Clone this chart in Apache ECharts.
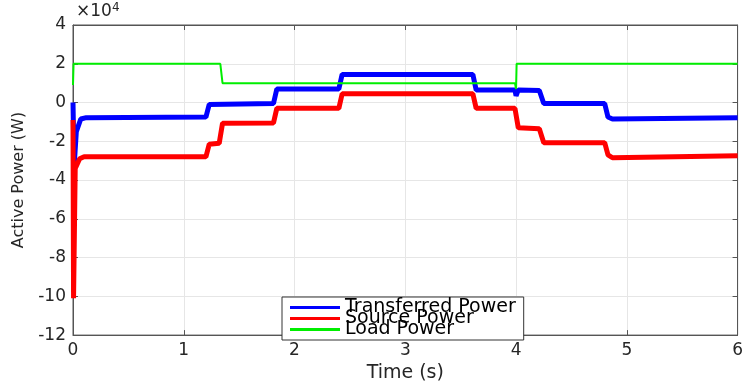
<!DOCTYPE html>
<html>
<head>
<meta charset="utf-8">
<script src="https://cdn.jsdelivr.net/npm/echarts@6/dist/echarts.min.js"></script>
<style>
  html, body { margin: 0; padding: 0; background: #fff; }
  #chart { width: 746px; height: 388px; }
</style>
</head>
<body>
<div id="chart"></div>
<script>
// time (s) and active power (W)
const transferredT = [0, 0.01, 0.03, 0.07, 0.12, 1.2, 1.23, 1.81, 1.84, 2.4, 2.43, 3.61, 3.64, 3.99, 4.0, 4.02, 4.21, 4.25, 4.8, 4.83, 4.87, 6];
const transferredP = [0, -33000, -15000, -8500, -7800, -7500, -1000, -500, 7000, 7000, 14500, 14500, 6500, 6500, 3500, 6500, 6200, -500, -500, -7500, -8500, -7800];

const sourceT = [0, 0.005, 0.02, 0.06, 0.1, 1.2, 1.23, 1.32, 1.35, 1.81, 1.84, 2.4, 2.43, 3.61, 3.64, 3.99, 4.02, 4.21, 4.25, 4.8, 4.83, 4.87, 6];
const sourceP = [-9000, -101000, -34000, -29000, -28000, -28000, -21500, -21000, -10700, -10500, -3000, -3000, 4500, 4500, -3000, -3000, -13000, -13500, -20700, -20700, -27000, -28500, -27500];

const loadT = [0, 0.005, 1.33, 1.35, 3.99, 4.0, 4.005, 6];
const loadP = [9000, 20000, 20000, 10000, 10000, 7000, 20000, 20000];

const yTicks = [-120000, 40000, 20000]; // min, max, interval
const legendNames = ['Transferred Power', 'Source Power', 'Load Power'];

const pairs = (t, p) => t.map((x, i) => [x, p[i]]);
const font = 'DejaVu Sans';
const ink = '#262626';
const frame = '#555';

const chart = echarts.init(document.getElementById('chart'));
chart.setOption({
  animation: false,
  backgroundColor: '#fff',
  textStyle: { fontFamily: font },
  grid: { left: 73, right: 1, top: 25, bottom: 46, show: true, borderColor: frame, borderWidth: 1 },
  graphic: [{
    type: 'text',
    left: 76,
    top: 2,
    style: {
      text: '×10{s|4}',
      font: '17px ' + font,
      fill: ink,
      rich: { s: { fontSize: 12, verticalAlign: 'top', fontFamily: font, fill: ink, padding: [0, 0, 8, 0] } }
    }
  }],
  legend: {
    data: legendNames,
    orient: 'vertical',
    left: 282,
    top: 297,
    icon: 'rect',
    itemWidth: 50,
    itemHeight: 3,
    itemGap: -8,
    padding: [1, 8, 1, 8],
    borderColor: '#333',
    borderWidth: 1,
    backgroundColor: '#fff',
    textStyle: { fontSize: 19, color: '#000', fontFamily: font }
  },
  xAxis: [{
    type: 'value',
    min: 0,
    max: 6,
    interval: 1,
    name: 'Time (s)',
    nameLocation: 'middle',
    nameGap: 28,
    nameTextStyle: { fontSize: 19, color: ink, fontFamily: font },
    axisLine: { onZero: false, lineStyle: { color: frame } },
    axisTick: { inside: true, length: 5, lineStyle: { color: frame } },
    axisLabel: { fontSize: 17, color: ink, margin: 7 },
    splitLine: { show: true, lineStyle: { color: '#e6e6e6' } }
  }, {
    type: 'value', position: 'top', min: 0, max: 6, interval: 1,
    axisLine: { onZero: false, lineStyle: { color: frame } },
    axisTick: { inside: true, length: 5, lineStyle: { color: frame } },
    axisLabel: { show: false }, splitLine: { show: false }
  }],
  yAxis: [{
    type: 'value',
    min: yTicks[0],
    max: yTicks[1],
    interval: yTicks[2],
    name: 'Active Power (W)',
    nameLocation: 'middle',
    nameGap: 46,
    nameTextStyle: { fontSize: 16, color: ink, fontFamily: font },
    axisLine: { show: true, onZero: false, lineStyle: { color: frame } },
    axisTick: { show: true, inside: true, length: 5, lineStyle: { color: frame } },
    axisLabel: { fontSize: 17, color: ink, margin: 7, formatter: v => String(v / 10000) },
    splitLine: { show: true, lineStyle: { color: '#e6e6e6' } }
  }, {
    type: 'value', position: 'right', min: yTicks[0], max: yTicks[1], interval: yTicks[2],
    axisLine: { show: true, onZero: false, lineStyle: { color: frame } },
    axisTick: { show: true, inside: true, length: 5, lineStyle: { color: frame } },
    axisLabel: { show: false }, splitLine: { show: false }
  }],
  series: [
    {
      name: legendNames[0], type: 'line', showSymbol: false, symbol: 'none',
      lineStyle: { color: '#0000ff', width: 5 }, itemStyle: { color: '#0000ff' },
      data: pairs(transferredT, transferredP)
    },
    {
      name: legendNames[1], type: 'line', showSymbol: false, symbol: 'none',
      lineStyle: { color: '#ff0000', width: 5 }, itemStyle: { color: '#ff0000' },
      data: pairs(sourceT, sourceP)
    },
    {
      name: legendNames[2], type: 'line', showSymbol: false, symbol: 'none',
      lineStyle: { color: '#00ee00', width: 2 }, itemStyle: { color: '#00ee00' },
      data: pairs(loadT, loadP)
    }
  ]
});
</script>
</body>
</html>
